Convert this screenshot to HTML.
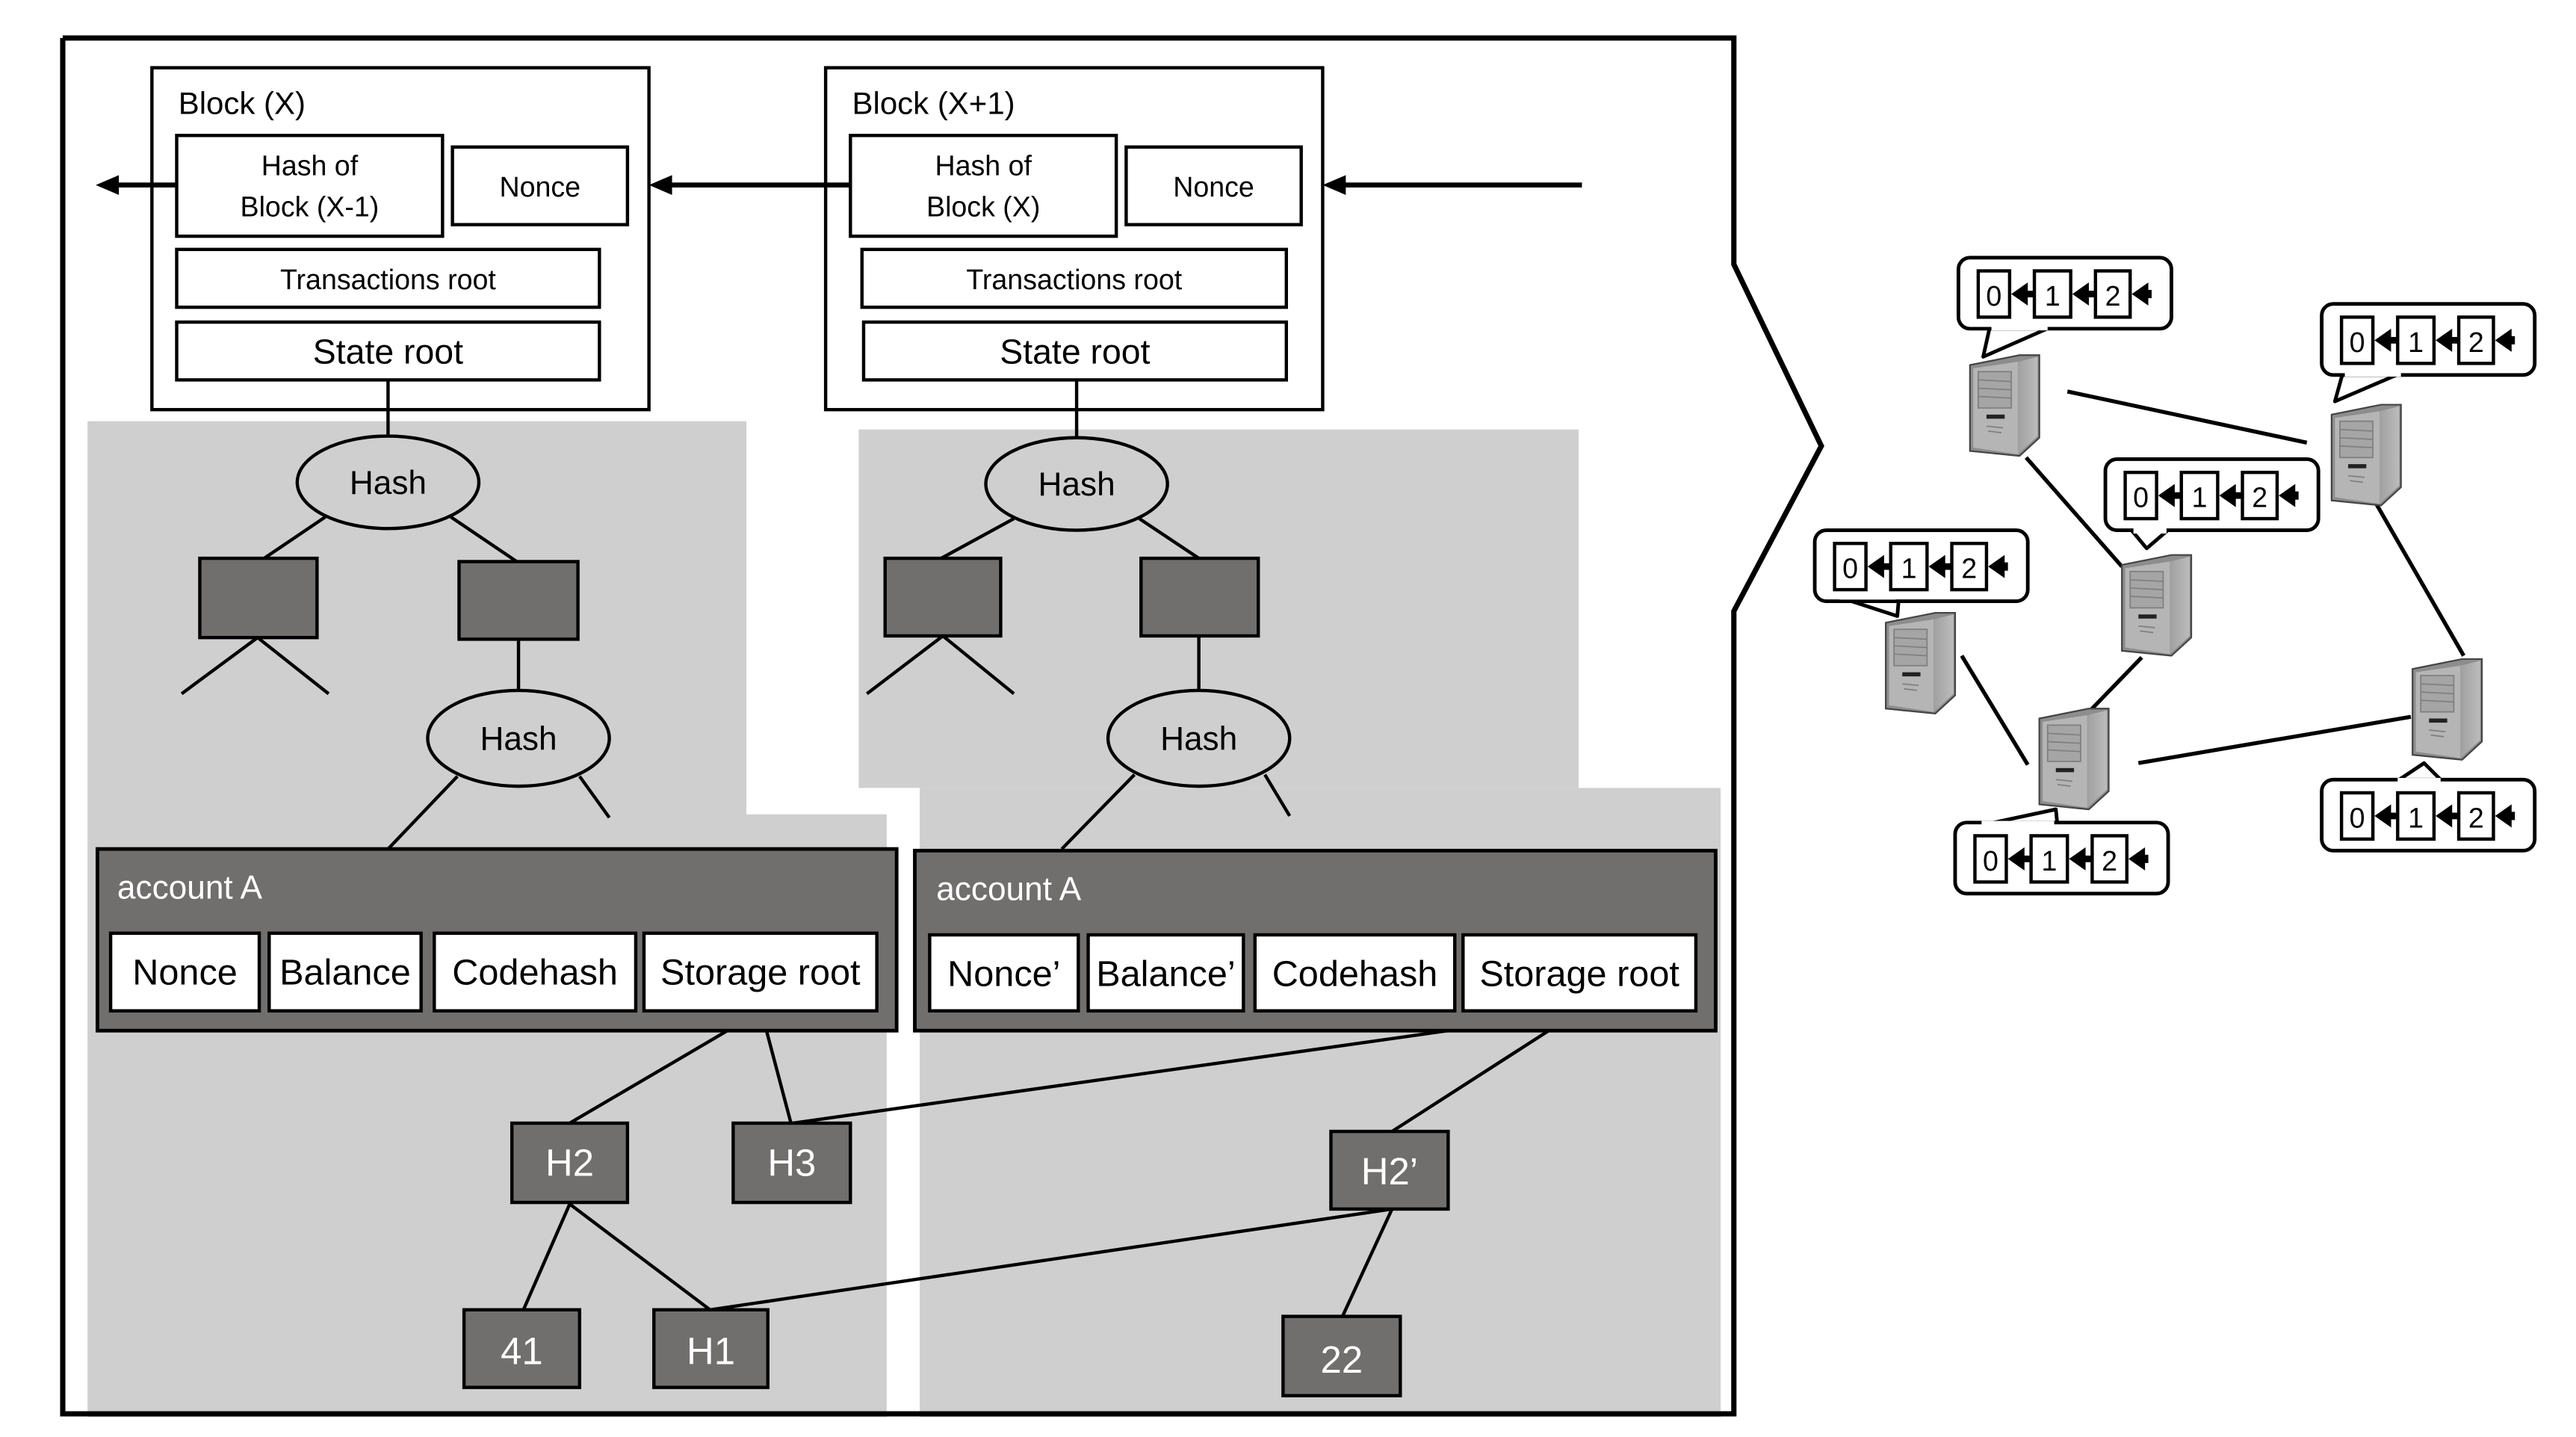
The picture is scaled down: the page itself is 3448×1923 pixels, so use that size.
<!DOCTYPE html>
<html><head><meta charset="utf-8"><style>
html,body{margin:0;padding:0;background:#fff;}
svg{display:block;}
text{font-family:"Liberation Sans","DejaVu Sans",sans-serif;}
</style></head><body>
<svg width="3448" height="1923" viewBox="0 0 1560 870" xmlns="http://www.w3.org/2000/svg">
<defs>
<g id="bub">
  <rect x="0" y="0" width="129" height="43" rx="7" fill="#fff" stroke="#000" stroke-width="2.2"/>
  <rect x="12" y="8" width="19" height="28" fill="#fff" stroke="#000" stroke-width="2"/>
  <rect x="46" y="8" width="22" height="28" fill="#fff" stroke="#000" stroke-width="2"/>
  <rect x="83" y="8" width="21" height="28" fill="#fff" stroke="#000" stroke-width="2"/>
  <polygon points="32,22 42,15 42,29" fill="#000"/><rect x="41" y="20" width="5" height="4" fill="#000"/>
  <polygon points="69,22 79,15 79,29" fill="#000"/><rect x="78" y="20" width="5" height="4" fill="#000"/>
  <polygon points="105,22 115,15 115,29" fill="#000"/><rect x="114" y="19.5" width="3" height="5" fill="#000"/>
  <text x="21.5" y="29" font-size="17" text-anchor="middle">0</text>
  <text x="57" y="29" font-size="17" text-anchor="middle">1</text>
  <text x="93.5" y="29" font-size="17" text-anchor="middle">2</text>
</g>
<linearGradient id="sf" x1="0" x2="1"><stop offset="0" stop-color="#a0a0a0"/><stop offset="1" stop-color="#bcbcbc"/></linearGradient>
<g id="srv">
  <polygon points="0,8 30,2 42,2 42,52 30,63 0,60" fill="#8d8d8d" stroke="#444" stroke-width="1"/>
  <polygon points="2,10 29,6 29,62 2,58" fill="#b5b5b5"/>
  <polygon points="29,6 41,3 41,51 29,62" fill="url(#sf)"/>
  <rect x="5" y="12" width="20" height="22" fill="#a5a5a5" stroke="#808080" stroke-width="0.8"/>
  <line x1="5" y1="17" x2="25" y2="18" stroke="#808080" stroke-width="0.8"/>
  <line x1="5" y1="22" x2="25" y2="23" stroke="#808080" stroke-width="0.8"/>
  <line x1="5" y1="27" x2="25" y2="28" stroke="#808080" stroke-width="0.8"/>
  <rect x="10" y="38" width="11" height="2.5" fill="#222"/>
  <line x1="10" y1="45" x2="20" y2="46" stroke="#808080" stroke-width="0.8"/>
  <line x1="11" y1="48" x2="19" y2="49" stroke="#808080" stroke-width="0.8"/>
</g>
</defs>

<polygon points="53,255 452,255 452,493 537,493 537,858 53,858" fill="#d0cfd0"/>
<polygon points="520,260 956,260 956,477 520,477" fill="#d0cfd0"/>
<polygon points="557,477 1042,477 1042,858 557,858" fill="#d0cfd0"/>

<polyline points="38,23 1050,23 1050,160 1103,270 1050,370 1050,856 38,856 38,23" fill="none" stroke="#000" stroke-width="3.2"/>

<rect x="92" y="41" width="301" height="207" fill="#fff" stroke="#000" stroke-width="2"/>
<text x="108" y="69" font-size="19">Block (X)</text>
<rect x="107" y="82" width="161" height="61" fill="#fff" stroke="#000" stroke-width="2"/>
<text x="187.5" y="106" font-size="17" text-anchor="middle">Hash of</text>
<text x="187.5" y="131" font-size="17" text-anchor="middle">Block (X-1)</text>
<rect x="274" y="89" width="106" height="47" fill="#fff" stroke="#000" stroke-width="2"/>
<text x="327" y="119" font-size="17" text-anchor="middle">Nonce</text>
<rect x="107" y="151" width="256" height="35" fill="#fff" stroke="#000" stroke-width="2"/>
<text x="235" y="175" font-size="17" text-anchor="middle">Transactions root</text>
<rect x="107" y="195" width="256" height="35" fill="#fff" stroke="#000" stroke-width="2"/>
<text x="235" y="220" font-size="21" text-anchor="middle">State root</text>

<rect x="500" y="41" width="301" height="207" fill="#fff" stroke="#000" stroke-width="2"/>
<text x="516" y="69" font-size="19">Block (X+1)</text>
<rect x="515" y="82" width="161" height="61" fill="#fff" stroke="#000" stroke-width="2"/>
<text x="595.5" y="106" font-size="17" text-anchor="middle">Hash of</text>
<text x="595.5" y="131" font-size="17" text-anchor="middle">Block (X)</text>
<rect x="682" y="89" width="106" height="47" fill="#fff" stroke="#000" stroke-width="2"/>
<text x="735" y="119" font-size="17" text-anchor="middle">Nonce</text>
<rect x="522" y="151" width="257" height="35" fill="#fff" stroke="#000" stroke-width="2"/>
<text x="650.5" y="175" font-size="17" text-anchor="middle">Transactions root</text>
<rect x="523" y="195" width="256" height="35" fill="#fff" stroke="#000" stroke-width="2"/>
<text x="651" y="220" font-size="21" text-anchor="middle">State root</text>

<g stroke="#000" stroke-width="3">
<line x1="107" y1="112" x2="70" y2="112"/>
<line x1="515" y1="112" x2="405" y2="112"/>
<line x1="958" y1="112" x2="813" y2="112"/>
</g>
<polygon points="58,112 72,106 72,118" fill="#000"/>
<polygon points="393,112 407,106 407,118" fill="#000"/>
<polygon points="801,112 815,106 815,118" fill="#000"/>

<g stroke="#000" stroke-width="2" fill="none">
<line x1="235" y1="230" x2="235" y2="264"/>
<line x1="197" y1="313" x2="160" y2="338"/>
<line x1="273" y1="313" x2="313" y2="340"/>
<line x1="156" y1="386" x2="110" y2="420"/>
<line x1="156" y1="386" x2="199" y2="420"/>
<line x1="314" y1="387" x2="314" y2="418"/>
<line x1="277" y1="470" x2="235" y2="514"/>
<line x1="351" y1="470" x2="369" y2="495"/>
<line x1="652" y1="230" x2="652" y2="265"/>
<line x1="614" y1="314" x2="570" y2="338"/>
<line x1="690" y1="314" x2="726" y2="338"/>
<line x1="571" y1="385" x2="525" y2="420"/>
<line x1="571" y1="385" x2="614" y2="420"/>
<line x1="726" y1="385" x2="726" y2="418"/>
<line x1="687" y1="469" x2="643" y2="514"/>
<line x1="766" y1="469" x2="781" y2="494"/>
<line x1="461" y1="612" x2="345" y2="680"/>
<line x1="461" y1="612" x2="479" y2="680"/>
<line x1="955" y1="613" x2="480" y2="680"/>
<line x1="955" y1="613" x2="843" y2="685"/>
<line x1="345" y1="729" x2="317" y2="793"/>
<line x1="345" y1="729" x2="430" y2="793"/>
<line x1="843" y1="732" x2="430" y2="793"/>
<line x1="843" y1="732" x2="813" y2="797"/>
</g>

<g fill="#d0cfd0" stroke="#000" stroke-width="2">
<ellipse cx="235" cy="292" rx="55" ry="28"/>
<ellipse cx="314" cy="447" rx="55" ry="29"/>
<ellipse cx="652" cy="293" rx="55" ry="28"/>
<ellipse cx="726" cy="447" rx="55" ry="29"/>
</g>
<g font-size="20" text-anchor="middle">
<text x="235" y="299">Hash</text>
<text x="314" y="454">Hash</text>
<text x="652" y="300">Hash</text>
<text x="726" y="454">Hash</text>
</g>

<g fill="#716e6e" stroke="#000" stroke-width="2">
<rect x="121" y="338" width="71" height="48"/>
<rect x="278" y="340" width="72" height="47"/>
<rect x="536" y="338" width="70" height="47"/>
<rect x="691" y="338" width="71" height="47"/>
</g>

<rect x="59" y="514" width="484" height="110" fill="#716e6e" stroke="#000" stroke-width="2.2"/>
<text x="71" y="544" font-size="20" fill="#fff">account A</text>
<rect x="554" y="515" width="485" height="109" fill="#716e6e" stroke="#000" stroke-width="2.2"/>
<text x="567" y="545" font-size="20" fill="#fff">account A</text>
<g fill="#fff" stroke="#000" stroke-width="2">
<rect x="67" y="565" width="90" height="47"/>
<rect x="163" y="565" width="92" height="47"/>
<rect x="263" y="565" width="122" height="47"/>
<rect x="390" y="565" width="141" height="47"/>
<rect x="563" y="566" width="90" height="46"/>
<rect x="659" y="566" width="94" height="46"/>
<rect x="760" y="566" width="121" height="46"/>
<rect x="886" y="566" width="141" height="46"/>
</g>
<g font-size="22" text-anchor="middle">
<text x="112" y="596">Nonce</text>
<text x="209" y="596">Balance</text>
<text x="324" y="596">Codehash</text>
<text x="460.5" y="596">Storage root</text>
<text x="608" y="597">Nonce’</text>
<text x="706" y="597">Balance’</text>
<text x="820.5" y="597">Codehash</text>
<text x="956.5" y="597">Storage root</text>
</g>

<g fill="#716e6e" stroke="#000" stroke-width="2">
<rect x="310" y="680" width="70" height="48"/>
<rect x="444" y="680" width="71" height="48"/>
<rect x="281" y="793" width="70" height="47"/>
<rect x="396" y="793" width="69" height="47"/>
<rect x="806" y="685" width="71" height="47"/>
<rect x="777" y="797" width="71" height="48"/>
</g>
<g font-size="23" fill="#fff" text-anchor="middle">
<text x="345" y="712">H2</text>
<text x="479.5" y="712">H3</text>
<text x="316" y="826">41</text>
<text x="430.5" y="826">H1</text>
<text x="841.5" y="717">H2’</text>
<text x="812.5" y="831">22</text>
</g>

<g stroke="#000" stroke-width="2.4">
<line x1="1252" y1="237" x2="1397" y2="268"/>
<line x1="1227" y1="277" x2="1285" y2="343"/>
<line x1="1439" y1="305" x2="1492" y2="397"/>
<line x1="1188" y1="397" x2="1228" y2="463"/>
<line x1="1297" y1="398" x2="1266" y2="430"/>
<line x1="1295" y1="462" x2="1460" y2="434"/>
</g>

<g fill="#fff" stroke="#000" stroke-width="2.2" stroke-linejoin="round">
<polygon points="1205,198 1201,216 1242,198"/>
<polygon points="1419,225 1414,243 1456,225"/>
<polygon points="1314,320 1300,332 1290,320"/>
<polygon points="1112,361 1149,373 1150,361"/>
<polygon points="1198,500 1245,490 1246,500"/>
<polygon points="1450,474 1468,462 1480,474"/>
</g>
<use href="#bub" x="1186" y="156"/>
<use href="#bub" x="1406" y="184"/>
<use href="#bub" x="1275" y="278"/>
<use href="#bub" x="1099" y="321"/>
<use href="#bub" x="1184" y="498"/>
<use href="#bub" x="1406" y="472"/>
<g fill="#fff" stroke="none">
<rect x="1206" y="196" width="34" height="4"/>
<rect x="1420" y="224" width="34" height="4"/>
<rect x="1292" y="319" width="20" height="4"/>
<rect x="1114" y="359" width="34" height="4"/>
<rect x="1200" y="497" width="44" height="4"/>
<rect x="1452" y="471" width="26" height="4"/>
</g>

<use href="#srv" x="1193" y="213"/>
<use href="#srv" x="1412" y="243"/>
<use href="#srv" x="1285" y="334"/>
<use href="#srv" x="1142" y="369"/>
<use href="#srv" x="1235" y="427"/>
<use href="#srv" x="1461" y="397"/>
</svg>
</body></html>
